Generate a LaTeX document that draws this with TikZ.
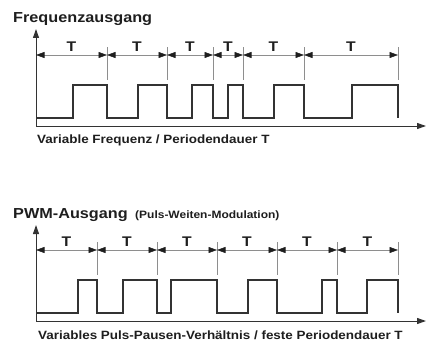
\documentclass[tikz,border=0pt]{standalone}
\usepackage{fontspec}
\setmainfont{Liberation Sans}[FakeStretch=1.12]
\usetikzlibrary{arrows.meta,calc}
\definecolor{inkc}{HTML}{1E1E1E}
\definecolor{sigc}{HTML}{333333}
\definecolor{tickc}{HTML}{8E8E8E}
\begin{document}
\begin{tikzpicture}[x=1pt,y=-1pt,
  axisline/.style={draw=sigc, line width=1pt, -{Triangle[length=9pt,width=6pt]}},
  tickline/.style={draw=tickc, line width=0.5pt},
  sigline/.style={draw=sigc, line width=1.6pt, line join=miter},
  dimline/.style={draw=tickc, line width=0.6pt, {Triangle[length=8.5pt,width=6pt,color=inkc]}-{Triangle[length=8.5pt,width=6pt,color=inkc]}},
  tlabel/.style={text=inkc, font=\bfseries\fontsize{14}{14}\selectfont, anchor=base, inner sep=0pt},
  titletext/.style={text=inkc, font=\bfseries\fontsize{14.5}{14.5}\selectfont, anchor=base west, inner sep=0pt},
  subtext/.style={text=inkc, font=\bfseries\fontsize{10.7}{10.7}\selectfont, anchor=base west, inner sep=0pt},
  captext/.style={text=inkc, font=\bfseries\fontsize{12}{12}\selectfont, anchor=base west, inner sep=0pt}]
\useasboundingbox (0,0) rectangle (427,345);

% ---------- top: Frequenzausgang ----------
\node[titletext] (t1) at (13,23) {Frequenzausgang};
\coordinate (o1) at (36,126);
\coordinate (ytop1) at (36,29);
\coordinate (xend1) at (426,126);
\draw[axisline] (o1) -- (ytop1);
\draw[axisline] (o1) -- (xend1);
\foreach \x [count=\i from 0] in {36,107,167,213,243,304,398} {
  \coordinate (a\i) at (\x,55);
}
\foreach \x in {107,167,213,243,304,398} {
  \draw[tickline] (\x,47) -- (\x,80);
}
\foreach \i/\j in {0/1,1/2,2/3,3/4,4/5,5/6} {
  \draw[dimline] (a\i) -- (a\j);
  \node[tlabel] (tl\i) at ($(a\i)!0.5!(a\j)+(0,-4)$) {T};
}
\draw[sigline] (36,118) -- (73,118) -- (73,85) -- (107,85) -- (107,118)
  -- (138,118) -- (138,85) -- (167,85) -- (167,118) -- (192,118) -- (192,85)
  -- (213,85) -- (213,118) -- (228,118) -- (228,85) -- (243,85) -- (243,118)
  -- (274,118) -- (274,85) -- (304,85) -- (304,118) -- (352,118) -- (352,85)
  -- (398,85) -- (398,118);
\node[captext] (c1) at (37,143) {Variable Frequenz / Periodendauer T};

% ---------- bottom: PWM ----------
\node[titletext] (t2) at (13,218) {PWM-Ausgang};
\node[subtext] (s2) at (135,218) {(Puls-Weiten-Modulation)};
\coordinate (o2) at (36,321);
\coordinate (ytop2) at (36,225);
\coordinate (xend2) at (426,321);
\draw[axisline] (o2) -- (ytop2);
\draw[axisline] (o2) -- (xend2);
\foreach \x [count=\i from 0] in {36,97,157,217,277,337,398} {
  \coordinate (b\i) at (\x,250);
}
\foreach \x in {97,157,217,277,337,398} {
  \draw[tickline] (\x,242) -- (\x,275);
}
\foreach \i/\j in {0/1,1/2,2/3,3/4,4/5,5/6} {
  \draw[dimline] (b\i) -- (b\j);
  \node[tlabel] (tb\i) at ($(b\i)!0.5!(b\j)+(0,-4)$) {T};
}
\draw[sigline] (36,313) -- (78,313) -- (78,280) -- (97,280) -- (97,313)
  -- (123,313) -- (123,280) -- (157,280) -- (157,313) -- (171,313) -- (171,280)
  -- (217,280) -- (217,313) -- (248,313) -- (248,280) -- (277,280) -- (277,313)
  -- (322,313) -- (322,280) -- (337,280) -- (337,313) -- (367,313) -- (367,280)
  -- (398,280) -- (398,313);
\node[captext] (c2) at (38,339) {Variables Puls-Pausen-Verhältnis / feste Periodendauer T};
\end{tikzpicture}
\end{document}
